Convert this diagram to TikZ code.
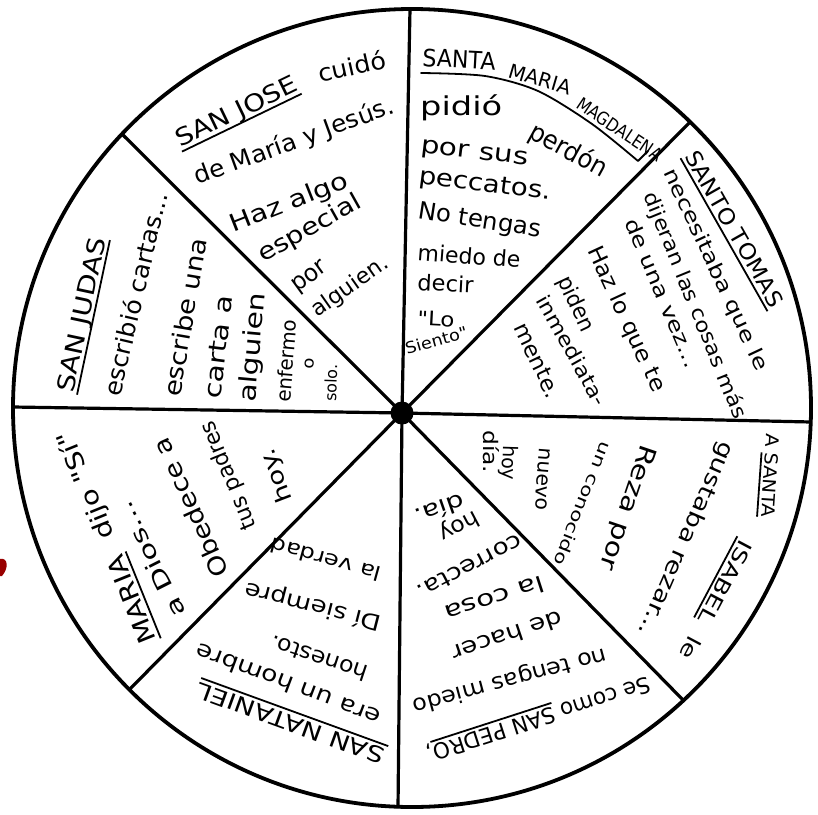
\documentclass[tikz,border=0pt]{standalone}
\usepackage{fontspec}
\setmainfont{DejaVu Sans}[Ligatures=TeXOff]
\usepackage{graphicx}
\newcommand\hwt[3]{\fontsize{#1}{#1}\selectfont\resizebox{#2pt}{\height}{#3}}
\newcommand\myul[1]{\setbox0=\hbox{#1}\rlap{\rule[-5pt]{\wd0}{1.8pt}}\box0}
\begin{document}
\begin{tikzpicture}[x=1pt,y=-1pt,
  hw/.style={inner sep=0pt, anchor=base west},
  spoke/.style={line width=3.2pt},
  rim/.style={line width=3.8pt},
  ulpath/.style={line width=1.8pt, line cap=round, line join=round},
  hub/.style={circle, fill=black, minimum size=23pt, inner sep=0pt}]
\useasboundingbox (0,0) rectangle (818,814);
\fill[white] (0,0) rectangle (818,814);
% spokes
\coordinate (c) at (402,413);
\coordinate (eT) at (410,9);
\coordinate (eB) at (398,808);
\coordinate (eL) at (13,407);
\coordinate (eR) at (811,422);
\coordinate (eUL) at (122,134);
\coordinate (eUR) at (690,122);
\coordinate (eLL) at (129,690);
\coordinate (eLR) at (684,701);
\foreach \e in {eT,eB,eL,eR,eUL,eUR,eLL,eLR} \draw[spoke] (c) -- (\e);
\draw[rim] (412,408) circle[radius=399];
\node[hub] (dot) at (c) {};
% red mark
\fill[red!60!black] (0,559) .. controls (8,557) and (9,568) .. (2,576) -- (0,576) -- cycle;

% Sector: San Jose
\node[hw,rotate=25.8] (j1) at (180,148) {\hwt{24}{133}{\myul{SAN JOSE}}};
\node[hw,rotate=12.6] (j2) at (320,83) {\hwt{24}{69}{cuidó}};
\node[hw,rotate=20] (j3) at (197,185) {\hwt{24}{211}{de María y Jesús.}};
\node[hw,rotate=21.5] (j4) at (233,233) {\hwt{24}{126}{Haz algo}};
\node[hw,rotate=29.2] (j5) at (263,263) {\hwt{24}{115}{especial}};
\node[hw,rotate=36] (j6) at (297,293) {\hwt{24}{39}{por}};
\node[hw,rotate=35] (j7) at (317,318) {\hwt{22}{89}{alguien.}};

% Sector: Santa Maria Magdalena
\node[hw,rotate=-3] (m1) at (422,66) {\hwt{24}{73}{SANTA}};
\node[hw,rotate=-16.4] (m2) at (507,77) {\hwt{20}{64}{MARIA}};
\node[hw,rotate=-33.8] (m3) at (575,107) {\hwt{18}{99}{MAGDALENA}};
\draw[ulpath] plot[smooth] coordinates {(421,73) (485,76) (538,91) (592,124) (638,161)} -- (648,151);
\node[hw,rotate=0] (m4) at (420,115) {\hwt{26}{82}{pidió}};
\node[hw,rotate=-28.7] (m5) at (527,137) {\hwt{26}{85}{perdón}};
\node[hw,rotate=-6.9] (m6) at (420,152) {\hwt{24}{108}{por sus}};
\node[hw,rotate=-7.3] (m7) at (418,183) {\hwt{24}{133}{peccatos.}};
\node[hw,rotate=-8.8] (m8) at (417,218) {\hwt{24}{124}{No tengas}};
\node[hw,rotate=-4.4] (m9) at (417,260) {\hwt{22}{103}{miedo de}};
\node[hw,rotate=-3] (m10) at (417,290) {\hwt{22}{56}{decir}};
\node[hw,rotate=-3] (m11) at (417,325) {\hwt{20}{37}{"Lo}};
\node[hw,rotate=16] (m12) at (407,355) {\hwt{16}{64}{Siento"}};

% Sector: Santo Tomas
\node[hw,rotate=-60.4] (t1) at (684,156) {\hwt{22}{176}{\myul{SANTO TOMAS}}};
\node[hw,rotate=-64.8] (t2) at (663,172) {\hwt{20}{221}{necesitaba que le}};
\node[hw,rotate=-67.8] (t3) at (643,195) {\hwt{20}{243}{dijeran las cosas más}};
\node[hw,rotate=-67] (t4) at (624,222) {\hwt{20}{160}{de una vez...}};
\node[hw,rotate=-65.2] (t5) at (587,250) {\hwt{22}{158}{Haz lo que te}};
\node[hw,rotate=-64.7] (t6) at (557,280) {\hwt{22}{59}{piden}};
\node[hw,rotate=-60.7] (t7) at (535,300) {\hwt{20}{123}{inmediata-}};
\node[hw,rotate=-64.4] (t8) at (513,327) {\hwt{22}{81}{mente.}};

% Sector: Santa Isabel
\node[hw,rotate=-94] (i1) at (767,433) {\hwt{18}{84}{A \myul{SANTA}}};
\node[hw,rotate=-118] (i2) at (741,538) {\hwt{20}{132}{\myul{ISABEL}\ \ le}};
\node[hw,rotate=-113.5] (i3) at (722,440) {\hwt{22}{210}{gustaba rezar...}};
\node[hw,rotate=-108.7] (i4) at (642,443) {\hwt{24}{131}{Reza por}};
\node[hw,rotate=-111.7] (i5) at (602,440) {\hwt{16}{132}{un conocido}};
\node[hw,rotate=-94.5] (i6) at (540,447) {\hwt{20}{63}{nuevo}};
\node[hw,rotate=-91.6] (i7) at (503,445) {\hwt{20}{35}{hoy}};
\node[hw,rotate=-90] (i8) at (483,430) {\hwt{20}{43}{día.}};

% Sector: San Pedro
\node[hw,rotate=-162.1] (p1) at (648,676) {\hwt{22}{234}{Se como \myul{SAN PEDRO},}};
\node[hw,rotate=-164.9] (p2) at (605,648) {\hwt{22}{200}{no tengas miedo}};
\node[hw,rotate=-161.4] (p3) at (560,610) {\hwt{22}{116}{de hacer}};
\node[hw,rotate=-162.1] (p4) at (542,575) {\hwt{22}{104}{la cosa}};
\node[hw,rotate=-152.3] (p5) at (518,533) {\hwt{22}{116}{correcta.}};
\node[hw,rotate=-152.2] (p6) at (475,510) {\hwt{22}{43}{hoy}};
\node[hw,rotate=-160.9] (p7) at (462,493) {\hwt{22}{52}{día.}};

% Sector: San Nataniel
\node[hw,rotate=160] (n1) at (387,750) {\hwt{22}{199}{\myul{SAN NATANIEL}}};
\node[hw,rotate=159.3] (n2) at (383,712) {\hwt{22}{196}{era un hombre}};
\node[hw,rotate=161.7] (n3) at (370,667) {\hwt{22}{102}{honesto.}};
\node[hw,rotate=165.6] (n4) at (383,617) {\hwt{22}{140}{Dí siempre}};
\node[hw,rotate=164.7] (n5) at (383,568) {\hwt{20}{114}{la verdad}};

% Sector: Maria
\node[hw,rotate=112] (a1) at (157,640) {\hwt{24}{227}{\myul{MARIA}\ \ dijo "Sí"}};
\node[hw,rotate=116.8] (a2) at (187,613) {\hwt{22}{127}{a Dios...}};
\node[hw,rotate=114.5] (a3) at (230,573) {\hwt{24}{150}{Obedece a}};
\node[hw,rotate=112.4] (a4) at (257,527) {\hwt{22}{116}{tus padres}};
\node[hw,rotate=111] (a5) at (293,500) {\hwt{22}{56}{hoy.}};

% Sector: San Judas
\node[hw,rotate=78] (d1) at (73,394) {\hwt{24}{158}{\myul{SAN JUDAS}}};
\node[hw,rotate=76.7] (d2) at (120,398) {\hwt{24}{209}{escribió cartas...}};
\node[hw,rotate=80.3] (d3) at (180,398) {\hwt{24}{160}{escribe una}};
\node[hw,rotate=82.8] (d4) at (220,400) {\hwt{24}{104}{carta a}};
\node[hw,rotate=84.8] (d5) at (255,403) {\hwt{24}{110}{alguien}};
\node[hw,rotate=85.2] (d6) at (290,403) {\hwt{20}{83}{enfermo}};
\node[hw,rotate=85] (d7) at (313,370) {\hwt{16}{11}{o}};
\node[hw,rotate=88] (d8) at (336,402) {\hwt{16}{37}{solo.}};
\end{tikzpicture}
\end{document}
